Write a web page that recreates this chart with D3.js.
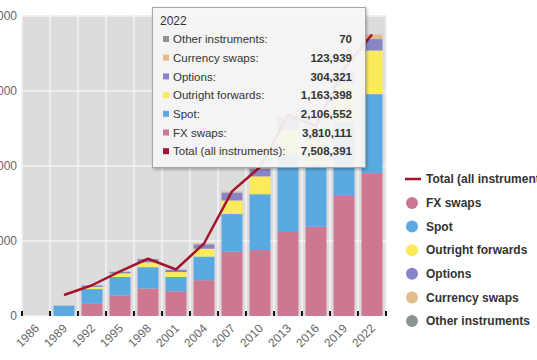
<!DOCTYPE html>
<html>
<head>
<meta charset="utf-8">
<script src="https://cdn.jsdelivr.net/npm/d3@7"></script>
<style>
  html, body { margin: 0; padding: 0; background: #fff; }
  svg { display: block; font-family: "Liberation Sans", Arial, Helvetica, sans-serif; }
</style>
</head>
<body>
<svg id="chart" width="537" height="360"></svg>
<script>
// ---- Data (daily turnover, USD millions) ----
const years = ["1986","1989","1992","1995","1998","2001","2004","2007","2010","2013","2016","2019","2022"];
const fxSwaps       = [null, 0, 324000, 546000, 734000, 656000, 954000, 1714000, 1759000, 2240000, 2378000, 3202000, 3810111];
const spot          = [null, 275000, 394000, 494000, 568000, 386000, 631000, 1005000, 1489000, 2047000, 1652000, 1979000, 2106552];
const outright      = [null, 0, 58000, 97000, 128000, 130000, 209000, 362000, 475000, 679000, 700000, 999000, 1163398];
const options       = [null, 0, 39000, 41000, 87000, 60000, 119000, 212000, 207000, 337000, 254000, 294000, 304321];
const currencySwaps = [null, 0, 0, 4000, 10000, 7000, 21000, 31000, 43000, 54000, 82000, 108000, 123939];
const otherInstr    = [null, 0, 0, 0, 0, 0, 0, 0, 0, 0, 0, 0, 70];
const totalAll      = [null, 560000, 820000, 1190000, 1527000, 1239000, 1934000, 3324000, 3973000, 5357000, 5066000, 6595000, 7508391];
const yTicks = [0, 2000000, 4000000, 6000000, 8000000];
const seriesNames = ["FX swaps","Spot","Outright forwards","Options","Currency swaps","Other instruments"];
const seriesColors = ["#cd7790","#5aa9e0","#fbeb5b","#8585c8","#e4bc8b","#8c9691"];
const totalName = "Total (all instruments)";
const totalColor = "#a3152e";
const hoverIndex = 12;

const seriesValues = [fxSwaps, spot, outright, options, currencySwaps, otherInstr];

const svg = d3.select("#chart");
const plot = {left: 22, right: 386, top: 15, bottom: 316};

const x = d3.scaleBand().domain(years).range([plot.left, plot.right])
  .paddingInner(0.25).paddingOuter(0.125);
const y = d3.scaleLinear().domain([0, 8000000]).range([316, 16]);

// background
svg.append("rect").attr("x", plot.left).attr("y", plot.top)
  .attr("width", plot.right - plot.left).attr("height", plot.bottom - plot.top)
  .attr("fill", "#dcdcdc");

// grid lines
const step = x.step();
const boundaries = years.map(yr => x(yr) - step * x.paddingInner() / 2).concat([plot.right]);
svg.append("g").selectAll("line").data(boundaries).join("line")
  .attr("x1", d => d).attr("x2", d => d).attr("y1", plot.top).attr("y2", plot.bottom)
  .attr("stroke", "#f4f4f4").attr("stroke-width", 1.5);
svg.append("g").selectAll("line").data(yTicks).join("line")
  .attr("x1", plot.left).attr("x2", plot.right).attr("y1", d => y(d)).attr("y2", d => y(d))
  .attr("stroke", "#f4f4f4").attr("stroke-width", 1.5);

// stacked bars
const rows = years.map((yr, i) => {
  const r = {year: yr};
  seriesNames.forEach((n, k) => r[n] = seriesValues[k][i] || 0);
  return r;
});
const stack = d3.stack().keys(seriesNames)(rows);
svg.append("g").selectAll("g").data(stack).join("g")
  .attr("fill", (d, k) => seriesColors[k])
  .selectAll("rect").data(d => d.filter(s => s[1] - s[0] > 0)).join("rect")
  .attr("x", d => x(d.data.year)).attr("width", x.bandwidth())
  .attr("y", d => y(d[1])).attr("height", d => y(d[0]) - y(d[1]));

// total line
const linePts = years.map((yr, i) => ({yr, v: totalAll[i]})).filter(d => d.v != null);
svg.append("path").datum(linePts)
  .attr("d", d3.line().x(d => x(d.yr) + x.bandwidth() / 2).y(d => y(d.v)))
  .attr("fill", "none").attr("stroke", totalColor).attr("stroke-width", 2.5)
  .attr("stroke-linejoin", "round");

// x ticks (small black marks)
svg.append("g").selectAll("rect").data(boundaries).join("rect")
  .attr("x", d => d - 1).attr("y", 311).attr("width", 2).attr("height", 5).attr("fill", "#111");

// x labels
svg.append("g").selectAll("text").data(years).join("text")
  .attr("transform", d => `translate(${x(d) + x.bandwidth() / 2 + 4},${329}) rotate(-45)`)
  .attr("text-anchor", "end").attr("font-size", 12).attr("fill", "#666").text(d => d);

// y labels
svg.append("g").selectAll("text").data(yTicks).join("text")
  .attr("x", 17).attr("y", d => y(d)).attr("dy", "0.35em")
  .attr("text-anchor", "end").attr("font-size", 12).attr("fill", "#666")
  .text(d => d3.format(",")(d));

// legend
const lg = svg.append("g");
lg.append("line").attr("x1", 405).attr("x2", 421).attr("y1", 179).attr("y2", 179)
  .attr("stroke", totalColor).attr("stroke-width", 2.5);
lg.append("text").attr("x", 426).attr("y", 179).attr("dy", "0.35em")
  .attr("font-size", 12).attr("font-weight", "bold").attr("fill", "#333").text(totalName);
seriesNames.forEach((n, k) => {
  const cy = 203 + k * 23.6;
  lg.append("circle").attr("cx", 412).attr("cy", cy).attr("r", 6).attr("fill", seriesColors[k]);
  lg.append("text").attr("x", 426).attr("y", cy).attr("dy", "0.35em")
    .attr("font-size", 12).attr("font-weight", "bold").attr("fill", "#333").text(n);
});

// tooltip
const defs = svg.append("defs");
const f = defs.append("filter").attr("id", "shadow").attr("x", "-10%").attr("y", "-10%")
  .attr("width", "130%").attr("height", "130%");
f.append("feDropShadow").attr("dx", 1).attr("dy", 1.5).attr("stdDeviation", 1.8)
  .attr("flood-color", "#000").attr("flood-opacity", 0.3);
const tt = svg.append("g");
tt.append("rect").attr("x", 152.5).attr("y", 7.5).attr("width", 213).attr("height", 160)
  .attr("fill", "rgba(248,248,248,0.9)").attr("stroke", "#a8a8a8").attr("stroke-width", 1)
  .attr("filter", "url(#shadow)");
tt.append("text").attr("x", 160).attr("y", 25).attr("font-size", 12).attr("fill", "#333")
  .text(years[hoverIndex]);
const ttRows = [];
for (let k = seriesNames.length - 1; k >= 0; k--) {
  ttRows.push({name: seriesNames[k], color: seriesColors[k], v: seriesValues[k][hoverIndex]});
}
ttRows.push({name: totalName, color: totalColor, v: totalAll[hoverIndex]});
ttRows.forEach((r, i) => {
  const cy = 39 + i * 18.7;
  tt.append("rect").attr("x", 163).attr("y", cy - 3).attr("width", 6).attr("height", 6).attr("fill", r.color);
  tt.append("text").attr("x", 173).attr("y", cy).attr("dy", "0.36em")
    .attr("font-size", 11.5).attr("fill", "#333").text(r.name + ":");
  tt.append("text").attr("x", 352).attr("y", cy).attr("dy", "0.36em").attr("text-anchor", "end")
    .attr("font-size", 11.5).attr("font-weight", "bold").attr("fill", "#333").text(d3.format(",")(r.v));
});
</script>
</body>
</html>
